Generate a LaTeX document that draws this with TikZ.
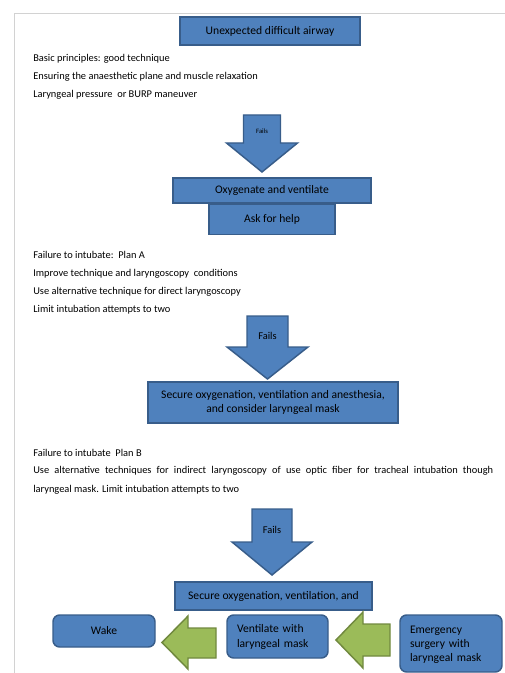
\documentclass[tikz,border=0pt]{standalone}
\usepackage{fontspec}
\setmainfont{Carlito}
\usetikzlibrary{positioning}
\definecolor{boxblue}{HTML}{4F81BD}
\definecolor{boxline}{HTML}{385D8A}
\definecolor{arrgreen}{HTML}{9BBB59}
\definecolor{arrline}{HTML}{71893F}
\begin{document}
\begin{tikzpicture}[x=0.75pt,y=-0.75pt]
        % Define styles for shapes
        \tikzset{
            box/.style={draw=boxline, fill=boxblue, line width=1.1pt, inner sep=0pt, align=center,
                font=\fontsize{8.7}{11}\selectfont},
            roundbox/.style={box, rounded corners=5pt},
            note/.style={anchor=west, inner sep=0pt, align=left, font=\fontsize{7.8}{13.5}\selectfont},
            downarrow/.style={draw=boxline, fill=boxblue, line width=1.1pt},
            leftarrow/.style={draw=arrline, fill=arrgreen, line width=1.1pt}
        }
        \useasboundingbox (0,0) rectangle (505,673);
        \draw[gray!35] (505,13) -- (14,13) -- (14,673);
        % Boxes
        \node[box, minimum width=135pt, minimum height=21pt] (airway) at (270,31) {Unexpected difficult airway};
        \node[box, minimum width=148.5pt, minimum height=18.75pt] (oxy) at (272,190.5) {Oxygenate and ventilate};
        \node[box, minimum width=94.5pt, minimum height=22.5pt, below=0pt of oxy] (help) {Ask for help};
        \node[box, minimum width=187.5pt, minimum height=30.75pt] (secure) at (273,402.5)
            {Secure oxygenation, ventilation and anesthesia,\\ and consider laryngeal mask};
        \node[box, minimum width=147.75pt, minimum height=21pt] (secureb) at (273.5,596)
            {Secure oxygenation, ventilation, and};
        \node[roundbox, minimum width=76.5pt, minimum height=24pt] (wake) at (104,631) {Wake};
        \node[roundbox, text width=60.75pt, inner xsep=7.5pt, minimum height=32.25pt, align=left,
            font=\fontsize{8.7}{11.25}\selectfont] (vent) at (277.5,636.5) {Ventilate with\\ laryngeal mask};
        \node[roundbox, text width=61.5pt, inner xsep=7.5pt, minimum height=42.75pt, align=left,
            font=\fontsize{8.7}{10.5}\selectfont] (emerg) at (451,643.5) {\\[-3pt]Emergency\\ surgery with\\ laryngeal mask};
        % Text
        \node[note] (basics) at (33,77) {Basic principles: good technique\\
            Ensuring the anaesthetic plane and muscle relaxation\\
            Laryngeal pressure\ \ or BURP maneuver};
        \node[note] (plana) at (33,282.5) {Failure to intubate:\ \ Plan A\\
            Improve technique and laryngoscopy\ \ conditions\\
            Use alternative technique for direct laryngoscopy\\
            Limit intubation attempts to two};
        \node[note] (planb) at (33,453) {Failure to intubate\ \ Plan B};
        \node[note, text width=345pt, align=justify, font=\fontsize{7.8}{14}\selectfont] (planbtext) at (33,480.5)
            {Use alternative techniques for indirect laryngoscopy of use optic fiber for tracheal intubation though\linebreak
            laryngeal mask. Limit intubation attempts to two};
        % Block arrows
        \draw[downarrow] (243.5,115) -- (280.5,115) -- (280.5,143) -- (297.5,143) -- (262,172)
            -- (226.5,143) -- (243.5,143) -- cycle;
        \draw[downarrow] (247,316) -- (288,316) -- (288,347) -- (308,347) -- (267.5,379)
            -- (227,347) -- (247,347) -- cycle;
        \draw[downarrow] (252,509) -- (292,509) -- (292,542) -- (312,542) -- (272,575)
            -- (232,542) -- (252,542) -- cycle;
        \node[font=\fontsize{5}{6}\selectfont] (fails1) at (262,131) {Fails};
        \node[font=\fontsize{7.8}{9}\selectfont] (fails2) at (267.5,336) {Fails};
        \node[font=\fontsize{7.8}{9}\selectfont] (fails3) at (272,530) {Fails};
        \draw[leftarrow] (216,628) -- (188,628) -- (188,616) -- (162,642.5) -- (188,669)
            -- (188,658) -- (216,658) -- cycle;
        \draw[leftarrow] (390,624) -- (363,624) -- (363,612) -- (336,640) -- (363,668)
            -- (363,656) -- (390,656) -- cycle;
\end{tikzpicture}
\end{document}
